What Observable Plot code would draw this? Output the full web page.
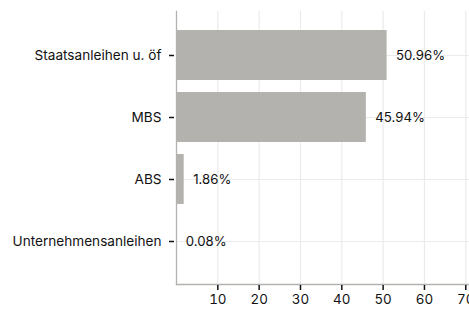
<!DOCTYPE html>
<html>
<head>
<meta charset="utf-8">
<script src="https://cdn.jsdelivr.net/npm/d3@7"></script>
<script src="https://cdn.jsdelivr.net/npm/@observablehq/plot@0.6"></script>
<style>
  html, body { margin: 0; padding: 0; background: #fff; }
  #chart svg { display: block; }
</style>
</head>
<body>
<div id="chart"></div>
<script>
const categories = ["Staatsanleihen u. öf", "MBS", "ABS", "Unternehmensanleihen"];
const values = [50.96, 45.94, 1.86, 0.08];
const labels = ["50.96%", "45.94%", "1.86%", "0.08%"];
const xTicks = [10, 20, 30, 40, 50, 60, 70];

const data = categories.map((c, i) => ({category: c, value: values[i], label: labels[i]}));

const chart = Plot.plot({
  width: 469,
  height: 315,
  marginLeft: 176,
  marginRight: 0,
  marginTop: 11,
  marginBottom: 31,
  style: {fontFamily: "Inter, sans-serif", fontSize: "13.6px", color: "#111", background: "#fff"},
  x: {domain: [0, 70.9], label: null},
  y: {domain: categories, paddingInner: 0.2, paddingOuter: 0.27, label: null},
  marks: [
    Plot.gridX(xTicks, {stroke: "#ebebeb", strokeOpacity: 1, strokeWidth: 1.2}),
    Plot.gridY(categories, {stroke: "#ebebeb", strokeOpacity: 1, strokeWidth: 1.2}),
    Plot.barX(data, {x: "value", y: "category", fill: "#b3b2ae"}),
    Plot.text(data, {x: "value", y: "category", text: "label", textAnchor: "start", dx: 9, fill: "#111", fontSize: 13.2}),
    Plot.frame({anchor: "left", stroke: "#b3b2ae", strokeWidth: 1.3}),
    Plot.frame({anchor: "bottom", stroke: "#b3b2ae", strokeWidth: 1.3}),
    Plot.axisX(xTicks, {tickSize: 5, tickPadding: 4, dy: 1, stroke: "#111", strokeWidth: 1.5, fontSize: 13.4, label: null}),
    Plot.axisY(categories, {tickSize: 5, tickPadding: 8, dx: -2, stroke: "#111", strokeWidth: 1.5, fontSize: 13.6, label: null})
  ]
});
document.getElementById("chart").appendChild(chart);
</script>
</body>
</html>
